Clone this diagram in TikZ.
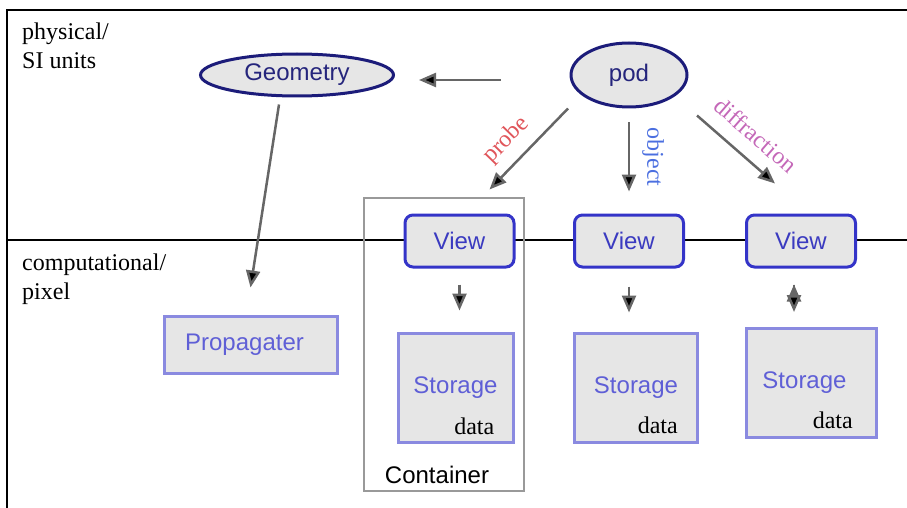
\documentclass[tikz,border=0pt]{standalone}
\usepackage{fontspec}
\setmainfont{Liberation Serif}
\setsansfont{Liberation Sans}
\usetikzlibrary{shapes.geometric,arrows.meta,positioning,calc}
\definecolor{boxgray}{HTML}{E6E6E6}
\definecolor{navyline}{HTML}{1C1C7A}
\definecolor{navytext}{HTML}{25257C}
\definecolor{viewline}{HTML}{3434C8}
\definecolor{viewtext}{HTML}{3A3AC0}
\definecolor{storeline}{HTML}{8A8AE0}
\definecolor{storetext}{HTML}{5F5FD6}
\definecolor{arrowgray}{HTML}{666666}
\definecolor{contgray}{HTML}{999999}
\definecolor{probered}{HTML}{E0555A}
\definecolor{objectblue}{HTML}{4B6FE0}
\definecolor{diffpink}{HTML}{C468B8}
\tikzset{frame/.style={draw=black, line width=2pt},
side/.style={font=\fontsize{24}{28.5}\selectfont, align=left, inner sep=0pt},
obj/.style={ellipse, draw=navyline, line width=3pt, fill=boxgray, text=navytext,
  font=\sffamily\fontsize{24}{28}\selectfont, inner sep=0pt},
view/.style={rectangle, rounded corners=8pt, draw=viewline, line width=3pt, fill=boxgray,
  text=viewtext, minimum width=109pt, minimum height=52pt, font=\sffamily\fontsize{24}{28}\selectfont},
store/.style={rectangle, draw=storeline, line width=3pt, fill=boxgray, text=storetext,
  minimum height=109pt, font=\sffamily\fontsize{24}{28}\selectfont},
container/.style={rectangle, draw=contgray, line width=2pt, minimum width=160pt, minimum height=293pt},
datatext/.style={font=\fontsize{24}{28}\selectfont, inner sep=0pt, anchor=base east},
flow/.style={draw=arrowgray, line width=2.5pt},
plabel/.style={font=\fontsize{24}{28}\selectfont, sloped, inner sep=0pt}
}

\begin{document}
\begin{tikzpicture}[x=1pt, y=-1pt, > = {Triangle[length=17pt 0 0,width=14pt 0 0]}]
    \useasboundingbox (0,0) rectangle (907,508);
    % frame and the physical / pixel split
    \draw[frame] (7,508) -- (7,10) -- (907,10);
    \draw[frame] (7,240) -- (907,240);
    \node[side, anchor=north west] (phys) at (22,23)  {physical/\\SI units};
    \node[side, anchor=north west] (comp) at (22,254) {computational/\\pixel};

    \node[container] (Cont) at (444,344.5) {};
    \node[font=\sffamily\fontsize{24}{28}\selectfont] (contlabel) at ($(Cont.south)+(-7,-17)$) {Container};

    \node[obj, minimum width=193pt, minimum height=42pt] (Geometry) at (297,75) {Geometry};
    \node[obj, minimum width=116pt, minimum height=64pt] (pod)      at (629,75) {pod};

    \node[view] (View1) at (459.5,241) {View};
    \node[view] (View2) at (629,241)   {View};
    \node[view] (View3) at (801,241)   {View};

    \node[store, minimum width=173pt, minimum height=57pt] (Propagater) at (250.5,344.5) {Propagater\hspace*{12pt}};
    \node[store, minimum width=115pt] (Storage1) at (455.5,387.5) {Storage};
    \node[store, minimum width=123pt] (Storage2) at (636,387.5)   {Storage};
    \node[store, minimum width=130pt] (Storage3) at (811.5,383)   {Storage\hspace*{14pt}};
    \node[datatext] (data1) at ($(Storage1.south east)+(-20,-9)$)  {data};
    \node[datatext] (data2) at ($(Storage2.south east)+(-21,-10)$) {data};
    \node[datatext] (data3) at ($(Storage3.south east)+(-25,-11)$) {data};

    \path[->, flow]
      ($(pod.west)+(-69,5)$)       edge ($(Geometry.east)+(24,5)$)
      ($(Geometry.south)+(-18,7)$) edge ($(Propagater.north)+(0,-27)$)
      ($(pod.south)+(-61,0)$)      edge node [plabel, above=10pt, pos=0.58, text=probered]   {probe}       ($(View1.north)+(30,-24)$)
      ($(pod.south)+(0,14)$)       edge node [plabel, above=12pt, text=objectblue]           {object}      ($(View2.north)+(0,-22)$)
      ($(pod.south)+(68,7)$)       edge node [plabel, above=14pt, pos=0.55, text=diffpink]   {diffraction} ($(View3.north)+(-26,-30)$)
      ($(View1.south)+(0,16)$)     edge ($(View1.south |- Storage1.north)+(0,-21)$)
      ($(View2.south)+(0,18)$)     edge ($(View2.south |- Storage2.north)+(0,-19)$)
      ($(View3.south)+(-7,16)$)    edge ($(View3.south |- Storage3.north)+(-7,-15)$);
\end{tikzpicture}
\end{document}
